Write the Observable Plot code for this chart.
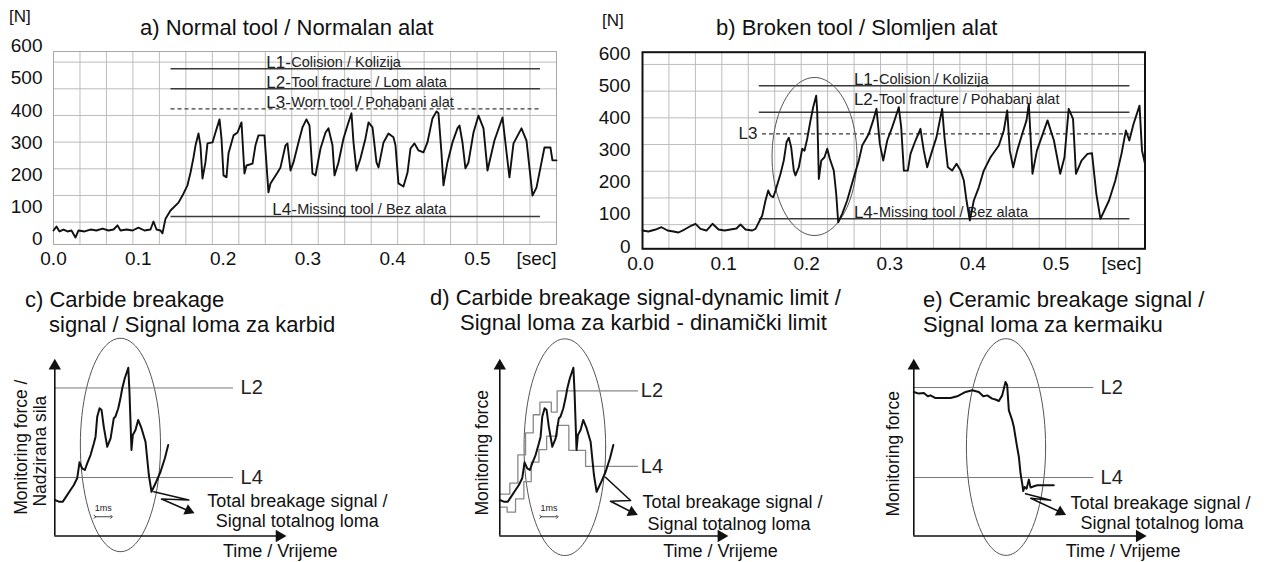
<!DOCTYPE html>
<html><head><meta charset="utf-8">
<script src="https://cdn.jsdelivr.net/npm/d3@7"></script>
<script src="https://cdn.jsdelivr.net/npm/@observablehq/plot@0.6"></script>
<style>
body{margin:0;background:#fff;}
#fig{position:relative;width:1266px;height:562px;overflow:hidden;background:#fff;font-family:"Liberation Sans",Arial,sans-serif;color:#111;}
.t{position:absolute;white-space:nowrap;line-height:1;}
#fig svg{position:absolute;overflow:visible;}
</style></head><body><div id="fig"></div>
<script>
// ---------- data: panel a (normal tool) ----------
const aTime = [0,0.0035,0.0071,0.0118,0.0165,0.0212,0.0259,0.0295,0.0366,0.0436,
0.0507,0.0578,0.0649,0.0708,0.0755,0.0790,0.0861,0.0932,0.1002,0.1073,
0.1144,0.1179,0.1215,0.1262,0.1285,0.1321,0.1380,0.1474,0.1521,0.1580,
0.1616,0.1651,0.1675,0.1710,0.1733,0.1757,0.1792,0.1816,0.1875,0.1910,
0.1958,0.1981,0.2005,0.2040,0.2064,0.2123,0.2170,0.2217,0.2252,0.2276,
0.2347,0.2382,0.2417,0.2488,0.2535,0.2559,0.2642,0.2677,0.2736,0.2759,
0.2795,0.2830,0.2889,0.2936,0.2983,0.3019,0.3054,0.3090,0.3149,0.3208,
0.3243,0.3290,0.3314,0.3361,0.3420,0.3467,0.3514,0.3538,0.3573,0.3620,
0.3679,0.3715,0.3762,0.3809,0.3833,0.3892,0.3950,0.4009,0.4033,0.4068,
0.4127,0.4175,0.4210,0.4257,0.4304,0.4363,0.4410,0.4469,0.4517,0.4540,
0.4575,0.4599,0.4646,0.4705,0.4764,0.4788,0.4823,0.4858,0.4894,0.4953,
0.5012,0.5071,0.5118,0.5200,0.5295,0.5377,0.5425,0.5519,0.5578,0.5649,
0.5696,0.5790,0.5861,0.5884,0.5932];
const aForce = [25,37.5,22,28,22,25,3,25,22,28,
25,31,25,28,41,25,28,25,34,25,
28,53,28,25,16,62,87.5,112,134,166,
206,253,291,328,291,187.5,237.5,297,300,331,
372,312.5,197,191,266,322,331,362.5,203,228,
234,291,322,322,144,172,206,222,291,297,
212.5,237.5,300,347,372,353,203,197,281,331,
344,291,197,237.5,312.5,353,391,300,212.5,250,
312.5,362.5,347,237.5,222,300,328,316,291,172,
162.5,206,281,297,275,269,300,375,397,391,
269,166,237.5,300,344,353,300,219,237.5,331,
384,344,212.5,306,378,191,297,344,306,134,
159,284,284,244,244];

// ---------- data: panel b (broken tool) ----------
const bTime = [0.0024,0.0096,0.0181,0.0253,0.0325,0.0397,0.0457,0.0529,0.0614,0.0662,
0.0722,0.0794,0.0866,0.0939,0.1011,0.1083,0.1155,0.1203,0.1264,0.1344,
0.1384,0.1465,0.1504,0.1537,0.1564,0.1597,0.1625,0.1685,0.1724,0.1757,
0.1785,0.1813,0.1845,0.1865,0.1905,0.1946,0.1974,0.2006,0.2046,0.2078,
0.2114,0.2126,0.2146,0.2175,0.2214,0.2247,0.2278,0.2326,0.2355,0.2379,
0.2427,0.2487,0.2567,0.2627,0.2668,0.2747,0.2800,0.2840,0.2880,0.2921,
0.2969,0.3029,0.3069,0.3108,0.3137,0.3169,0.3217,0.3249,0.3309,0.3369,
0.3409,0.3450,0.3510,0.3562,0.3602,0.3630,0.3658,0.3698,0.3751,0.3803,
0.3851,0.3891,0.3923,0.3963,0.4011,0.4071,0.4131,0.4212,0.4312,0.4372,
0.4413,0.4444,0.4485,0.4533,0.4593,0.4645,0.4673,0.4717,0.4770,0.4898,
0.4975,0.5051,0.5102,0.5153,0.5205,0.5240,0.5307,0.5379,0.5433,0.5485,
0.5535,0.5638,0.5714,0.5788,0.5841,0.5882,0.5933,0.6005,0.6035,0.6071];
const bForce = [49.7,46.6,52.8,60,49.7,46.6,43.5,52.8,65.3,70.6,
55,49.7,70.6,52.8,49.7,52.8,56,68.4,52.8,49.7,
55,96.4,143,174,158.5,153,174,226,267,324,
338,309,236,221,246.5,304,298,335,392,433,
469,423,210,267,277.5,304,272.6,236,164,75.5,
101.6,143,215,267,314,350,392,428,319,267,
329.5,371,402,433,371,236,236,288,329.5,366,
298,246.5,298,340,392,428,340,246.5,236,257,
236,205,143,81,143,184,236,277.5,314,360.6,
423,298,246.5,298,350,392,443.6,226,298,392,
329.5,226,277.5,428,397,226,267,288,290,164,
86,143,205,288,360.6,329.5,381,438,298,257];

// limits
const limitNames = ["L1","L2","L3","L4"];
const limitsA = [530,468,405,69];
const limitTextsA = ["Colision / Kolizija","Tool fracture / Lom alata","Worn tool / Pohabani alat","Missing tool / Bez alata"];
const limitsB = [500,417,350,86];
const limitTextsB = ["Colision / Kolizija","Tool fracture / Pohabani alat","","Missing tool / Bez alata"];

// ticks
const xTicks = [0,0.1,0.2,0.3,0.4,0.5];
const yTicks = [0,100,200,300,400,500,600];

// ---------- schematic signals (t in ms, force in % of L2) ----------
const sigT = [0,0.24,0.48,0.68,0.94,1.14,1.34,1.48,1.64,1.80,1.94,2.14,2.34,2.44,2.54,2.68,2.80,2.93,3.14,3.34,3.53,3.63,3.80,3.93,4.04,4.19,4.40,4.47,4.59,4.67,4.83,4.99,5.19,5.43,5.53,5.63,5.79,6.03,6.33,6.59,6.79];
const sigF = [24.3,23.2,23.2,26.6,31.1,34.5,39,49.8,45.7,44.6,49.1,54.7,62.6,67.1,80.6,86.3,85.1,73.9,60.3,66,79.5,80.6,86.3,93,99.8,106.6,113.7,97.5,58.1,68.2,71.6,78.4,72.8,63.7,52.5,41.2,29.9,35.6,43.4,52.5,61.5];
const upperT = [0,0.60,1.08,1.54,2.00,2.40,3.08,3.43,8.23];
const upperF = [28.3,35.7,54.8,69.7,81.9,90.4,83.7,98,98];
const lowerT = [0,0.44,0.94,1.44,1.88,2.34,2.80,3.43,4.13,5.13,8.23];
const lowerF = [19.5,16.1,25.1,36.8,49.9,58.4,67.5,74.7,57.8,47,47];
const ceramT = [0,0.30,0.60,0.84,1.0,1.30,2.20,2.60,3.10,3.50,3.89,4.16,4.40,4.69,4.89,5.09,5.29,5.49,5.59,5.69,5.89,5.99,6.15,6.29,6.39,6.49,6.55,6.63,6.75,6.89,6.99,7.19,7.39,8.38];
const ceramF = [97.3,96.2,96.6,94.4,95,93.2,93.2,94.4,97.3,98.4,97.3,94.4,95,92.8,92.2,91.2,95,104,101.8,84.9,78.2,73.6,62.4,53.4,42.2,35.4,30.4,33.1,32,38.1,32.7,33.6,34.3,34.3];
const limitsC = [100,39.5];
const limitsD = [98,47];
const limitsE = [100.3,39.5];

// ---------- helpers ----------
const FONT = "Liberation Sans, Arial, sans-serif";
const fig = document.getElementById("fig");
function put(node, left, top){ node.style.left = left+"px"; node.style.top = top+"px"; fig.appendChild(node); }
function label(text, left, top, size){ const d = document.createElement("div"); d.className = "t"; d.textContent = text; d.style.fontSize = size+"px"; put(d, left, top); }
const rows = (T, F) => T.map((t, i) => ({t, f: F[i]}));
function ellipse(cx, cy, rx, ry){ return d3.range(0, 361, 4).map(a => ({t: cx + rx*Math.cos(a*Math.PI/180), f: cy + ry*Math.sin(a*Math.PI/180)})); }
const baseStyle = {fontFamily: FONT, fontSize: "19px", background: "transparent", color: "#111", overflow: "visible"};

// ---------- panel a ----------
{
  const X = [0, 0.5932], Y = [-18.75, 584];
  const gx = d3.range(20).map(k => X[0] + k*(X[1]-X[0])/19);
  const gy = d3.range(7).map(k => 51 + 83.3*k);
  const lim = limitNames.map((n, i) => ({n, v: limitsA[i], s: limitTextsA[i]}));
  const span = [0.1386, 0.5743];
  const lx = [0.251, 0.251, 0.251, 0.258];
  const p = Plot.plot({
    width: 600, height: 275, marginLeft: 53, marginRight: 44, marginTop: 51, marginBottom: 31,
    x: {domain: X, label: null}, y: {domain: Y, label: null}, style: baseStyle,
    marks: [
      Plot.ruleX(gx, {stroke: "#bdbdbd", strokeWidth: 1}),
      Plot.ruleY(gy, {stroke: "#bdbdbd", strokeWidth: 1}),
      Plot.frame({stroke: "#a8a8a8"}),
      Plot.axisX(xTicks, {tickSize: 0, tickPadding: 7, tickFormat: d => d.toFixed(1), fontSize: 19, label: null}),
      Plot.axisY(yTicks, {tickSize: 0, tickPadding: 11, fontSize: 19, label: null}),
      Plot.text([{t: 0.5696, s: "[sec]"}], {x: "t", text: "s", frameAnchor: "bottom", lineAnchor: "top", dy: 7, fontSize: 19}),
      Plot.ruleY(lim.filter(d => d.n !== "L3"), {y: "v", x1: span[0], x2: span[1], stroke: "#3a3a3a", strokeWidth: 1.5}),
      Plot.ruleY(lim.filter(d => d.n === "L3"), {y: "v", x1: span[0], x2: span[1], stroke: "#3a3a3a", strokeWidth: 1.2, strokeDasharray: "4,3"}),
      Plot.text(lim, {x: (d, i) => lx[i], y: "v", text: d => d.n + "-", textAnchor: "start", lineAnchor: "bottom", dy: -1, fontSize: 17, fill: "#222"}),
      Plot.text(lim, {x: (d, i) => lx[i], y: "v", text: "s", textAnchor: "start", lineAnchor: "bottom", dx: 25, dy: -2, fontSize: 14.5, fill: "#222"}),
      Plot.line(rows(aTime, aForce), {x: "t", y: "f", stroke: "#111", strokeWidth: 1.9, strokeLinejoin: "round"})
    ]
  });
  put(p, 0, 0);
  label("[N]", 9, 8, 17);
  label("a) Normal tool / Normalan alat", 140, 17, 22);
}

// ---------- panel b ----------
{
  const X = [0.0024, 0.6071], Y = [-7.1, 604];
  const gx = d3.range(20).map(k => X[0] + k*(X[1]-X[0])/19);
  const gy = d3.range(7).map(k => 68 + 83*k);
  const lim = limitNames.map((n, i) => ({n, v: limitsB[i], s: limitTextsB[i]}));
  const span = [0.143, 0.589];
  const solid = lim.filter(d => d.n !== "L3");
  const lift = {L1: 0, L2: 20, L4: 0};
  const p = Plot.plot({
    width: 706, height: 275, marginLeft: 82, marginRight: 121.5, marginTop: 51.7, marginBottom: 26.7,
    x: {domain: X, label: null}, y: {domain: Y, label: null}, style: baseStyle,
    marks: [
      Plot.ruleX(gx, {stroke: "#bdbdbd", strokeWidth: 1}),
      Plot.ruleY(gy, {stroke: "#bdbdbd", strokeWidth: 1}),
      Plot.axisX(xTicks, {tickSize: 0, tickPadding: 8, tickFormat: d => d.toFixed(1), fontSize: 19, label: null}),
      Plot.axisY(yTicks, {tickSize: 0, tickPadding: 12, fontSize: 19, label: null}),
      Plot.text([{t: 0.5788, s: "[sec]"}], {x: "t", text: "s", frameAnchor: "bottom", lineAnchor: "top", dy: 8, fontSize: 19}),
      Plot.ruleY(solid, {y: "v", x1: span[0], x2: span[1], stroke: "#3a3a3a", strokeWidth: 1.5}),
      Plot.ruleY(lim.filter(d => d.n === "L3"), {y: "v", x1: 0.1468, x2: span[1], stroke: "#3a3a3a", strokeWidth: 1.2, strokeDasharray: "4,3"}),
      Plot.text(solid, {x: 0.2568, y: d => d.v + lift[d.n], text: d => d.n + "-", textAnchor: "start", lineAnchor: "bottom", dy: -1, fontSize: 17, fill: "#222"}),
      Plot.text(solid, {x: 0.2568, y: d => d.v + lift[d.n], text: "s", textAnchor: "start", lineAnchor: "bottom", dx: 25, dy: -2, fontSize: 14.5, fill: "#222"}),
      Plot.text(lim.filter(d => d.n === "L3"), {x: 0.1408, y: "v", text: "n", textAnchor: "end", fontSize: 17, fill: "#222"}),
      Plot.line(ellipse(0.2094, 279.8, 0.0511, 245.6), {x: "t", y: "f", stroke: "#555", strokeWidth: 1}),
      Plot.line(rows(bTime, bForce), {x: "t", y: "f", stroke: "#111", strokeWidth: 1.9, strokeLinejoin: "round"}),
      Plot.frame({stroke: "#111", strokeWidth: 2})
    ]
  });
  put(p, 560, 0);
  label("[N]", 602, 12, 17);
  label("b) Broken tool / Slomljen alat", 716, 17, 22);
}

// ---------- schematic helper ----------
function schematic(o){
  const tipY = 118.9;
  const zz = o.zz;
  const last = zz[zz.length - 1];
  const marks = [
    Plot.line(ellipse(...o.ell), {x: "t", y: "f", stroke: "#555", strokeWidth: 1}),
    ...o.extra,
    Plot.text(["L2", "L4"], {x: o.labX, y: (d, i) => o.lims[i], text: d => d, textAnchor: "start", fontSize: 20, fill: "#222"}),
    Plot.line(rows(o.sT, o.sF), {x: "t", y: "f", stroke: "#111", strokeWidth: 2, strokeLinejoin: "round"}),
    Plot.ruleX([0], {y1: 0, y2: tipY - 4, stroke: "#111", strokeWidth: 1.6}),
    Plot.ruleY([0], {x1: 0, x2: o.xTip - 0.3, stroke: "#111", strokeWidth: 1.6}),
    Plot.dot([{t: 0, f: tipY}], {x: "t", y: "f", symbol: "triangle", r: 4.6, fill: "#111", stroke: "none", dy: 6}),
    Plot.dot([{t: o.xTip, f: 0}], {x: "t", y: "f", symbol: "triangle", r: 4.6, fill: "#111", stroke: "none", rotate: 90, dx: -6}),
    Plot.line(zz, {x: "t", y: "f", stroke: "#111", strokeWidth: 1.6}),
    Plot.dot([last], {x: "t", y: "f", symbol: "triangle", r: 4.2, fill: "#111", stroke: "none", rotate: o.zzRot, dx: -2, dy: -1}),
    Plot.text(o.tb, {x: "t", y: "f", text: "s", textAnchor: "start", fontSize: 18}),
    Plot.text(["Time / Vrijeme"], {x: o.timeX, y: -10, text: d => d, fontSize: 18}),
    Plot.text(o.yl, {x: "t", y: "f", text: "s", rotate: -90, fontSize: 17.5})
  ];
  if (o.ms != null) {
    marks.push(
      Plot.link([{a: o.ms, b: o.ms + 1, f: 13}], {x1: "a", x2: "b", y1: "f", y2: "f", stroke: "#111", strokeWidth: 0.8, markerStart: "arrow", markerEnd: "arrow"}),
      Plot.text(["1ms"], {x: o.ms + 0.5, y: 19, text: d => d, fontSize: 9, fill: "#222"})
    );
  }
  const p = Plot.plot({
    width: o.width, height: 292, marginLeft: o.ml, marginRight: o.mr, marginTop: 89.5, marginBottom: 26.5,
    x: {domain: [0, o.xTip], axis: null}, y: {domain: [0, tipY], axis: null}, style: baseStyle, marks
  });
  put(p, o.left, 270);
}

// ---------- panel c ----------
schematic({
  left: 0, width: 420, ml: 54.3, mr: 135.2, xTip: 13.8,
  ell: [3.93, 61.5, 2.40, 72.1], lims: limitsC, labX: 11.12,
  extra: [Plot.ruleY(limitsC, {x1: 0, x2: 10.7, stroke: "#777", strokeWidth: 1})],
  sT: sigT, sF: sigF,
  zz: [{t: 5.93, f: 29.9}, {t: 8.02, f: 24.3}, {t: 6.39, f: 25}, {t: 8.13, f: 16.4}], zzRot: 113.6,
  ms: 2.40,
  tb: [{t: 9.13, f: 23.2, s: "Total breakage signal /"}, {t: 9.63, f: 9.7, s: "Signal totalnog loma"}],
  timeX: 13.5,
  yl: [{t: -2.0, f: 60, s: "Monitoring force /"}, {t: -0.86, f: 57.3, s: "Nadzirana sila"}]
});
label("c) Carbide breakage", 25, 289, 22);
label("signal / Signal loma za karbid", 49, 314, 22);

// ---------- panel d ----------
schematic({
  left: 420, width: 420, ml: 79.3, mr: 113.3, xTip: 13.6,
  ell: [3.89, 60, 2.44, 73.2], lims: limitsD, labX: 8.43,
  extra: [
    Plot.line(rows(upperT, upperF), {x: "t", y: "f", curve: "step-after", stroke: "#888", strokeWidth: 1.3}),
    Plot.line(rows(lowerT, lowerF), {x: "t", y: "f", curve: "step-after", stroke: "#888", strokeWidth: 1.3})
  ],
  sT: sigT, sF: sigF,
  zz: [{t: 6.32, f: 39.7}, {t: 7.82, f: 24}, {t: 6.62, f: 23.5}, {t: 8.02, f: 15.4}], zzRot: 115,
  ms: 2.44,
  tb: [{t: 8.53, f: 22.8, s: "Total breakage signal /"}, {t: 8.83, f: 8.2, s: "Signal totalnog loma"}],
  timeX: 13.2,
  yl: [{t: -1.05, f: 56.2, s: "Monitoring force"}]
});
label("d) Carbide breakage signal-dynamic limit /", 430, 287, 22);
label("Signal loma za karbid - dinamički limit", 460, 312, 22);

// ---------- panel e ----------
schematic({
  left: 840, width: 426, ml: 73.3, mr: 121, xTip: 13.87,
  ell: [5.52, 60.1, 2.37, 73.2], lims: limitsE, labX: 11.18,
  extra: [Plot.ruleY(limitsE, {x1: 0, x2: 10.78, stroke: "#777", strokeWidth: 1})],
  sT: ceramT, sF: ceramF,
  zz: [{t: 6.69, f: 28.6}, {t: 8.19, f: 24.1}, {t: 7.0, f: 25.5}, {t: 8.89, f: 15.5}], zzRot: 118,
  ms: null,
  tb: [{t: 9.38, f: 21.8, s: "Total breakage signal /"}, {t: 9.98, f: 8.4, s: "Signal totalnog loma"}],
  timeX: 12.53,
  yl: [{t: -1.2, f: 55.5, s: "Monitoring force"}]
});
label("e) Ceramic breakage signal /", 923, 289, 22);
label("Signal loma za kermaiku", 923, 314, 22);
</script></body></html>
